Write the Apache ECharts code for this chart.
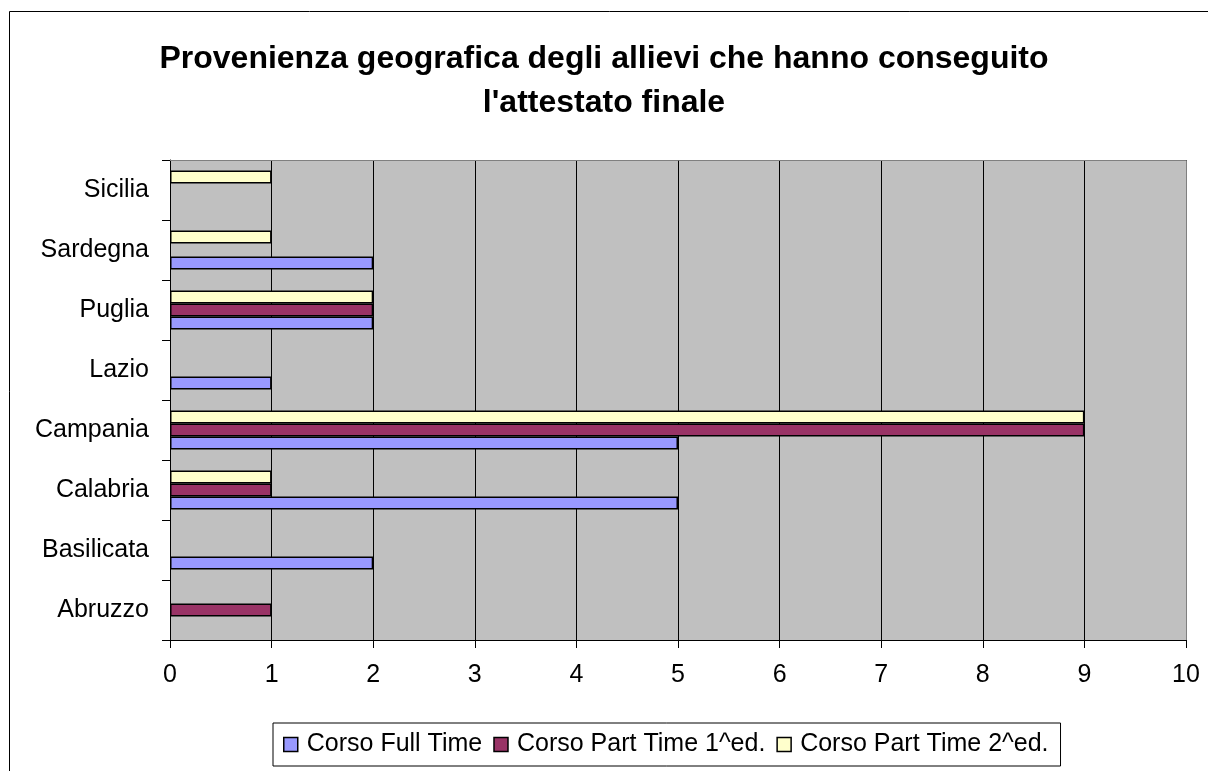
<!DOCTYPE html>
<html lang="it">
<head>
<meta charset="UTF-8" />
<title>Provenienza geografica</title>
<script src="https://cdn.jsdelivr.net/npm/echarts@6/dist/echarts.min.js"></script>
<style>
  html, body { margin: 0; padding: 0; background: #fff; }
  #chart { width: 1208px; height: 771px; }
</style>
</head>
<body>
<div id="chart"></div>
<script>
const regioni = ['Abruzzo', 'Basilicata', 'Calabria', 'Campania', 'Lazio', 'Puglia', 'Sardegna', 'Sicilia'];
const fullTime = [0, 2, 5, 5, 1, 2, 2, 0];
const partTime1 = [1, 0, 1, 9, 0, 2, 0, 0];
const partTime2 = [0, 0, 1, 9, 0, 2, 1, 1];
const xTicks = [0, 1, 2, 3, 4, 5, 6, 7, 8, 9, 10];

const chart = echarts.init(document.getElementById('chart'));

const font = 'Liberation Sans, Arial, sans-serif';
const barStyle = (color) => ({ color: color, borderColor: '#000', borderWidth: 1.5 });

// zeros are left out so no empty outline is drawn
const clean = (arr) => arr.map(v => (v === 0 ? '-' : v));

chart.setOption({
  backgroundColor: '#fff',
  title: {
    text: 'Provenienza geografica degli allievi che hanno conseguito\nl\'attestato finale',
    left: 'center',
    top: 32,
    textStyle: { fontFamily: font, fontSize: 32, fontWeight: 'bold', color: '#000', lineHeight: 44 }
  },
  graphic: [{
    type: 'rect',
    shape: { x: 9.5, y: 11.5, width: 1210, height: 770 },
    style: { fill: 'none', stroke: '#000', lineWidth: 1 },
    silent: true
  }, {
    // grey frame of the plot area (top/right)
    type: 'polyline',
    shape: { points: [[170, 160.5], [1186.5, 160.5], [1186.5, 640]] },
    style: { fill: 'none', stroke: '#808080', lineWidth: 1 },
    z: 10,
    silent: true
  }],
  legend: {
    left: 273,
    top: 723,
    icon: 'rect',
    itemWidth: 14,
    itemHeight: 14,
    itemGap: 11,
    padding: [9, 12, 9, 10],
    borderColor: '#000',
    borderWidth: 1,
    itemStyle: { borderColor: '#000', borderWidth: 1.5 },
    textStyle: { fontFamily: font, fontSize: 25, color: '#000', padding: [0, 0, 0, 4] },
    data: ['Corso Full Time', 'Corso Part Time 1^ed.', 'Corso Part Time 2^ed.']
  },
  grid: { left: 170, right: 22, top: 160, bottom: 131 },
  xAxis: {
    type: 'value',
    min: 0,
    max: 10,
    interval: 1,
    axisLine: { show: true, lineStyle: { color: '#000' } },
    axisTick: { show: true, length: 8, lineStyle: { color: '#000' } },
    axisLabel: { fontFamily: font, fontSize: 25, color: '#000', margin: 23,
      formatter: (v) => (xTicks.includes(v) ? String(v) : '') },
    splitLine: { show: true, lineStyle: { color: '#000', width: 1 } }
  },
  yAxis: {
    type: 'category',
    data: regioni,
    axisLine: { show: true, lineStyle: { color: '#000' } },
    axisTick: { show: true, length: 8, lineStyle: { color: '#000' } },
    axisLabel: { fontFamily: font, fontSize: 25, color: '#000', margin: 21 },
    splitArea: { show: true, areaStyle: { color: ['#C0C0C0', '#C0C0C0'] } }
  },
  // series listed top-to-bottom inside each band; legend order set above
  series: [
    { name: 'Corso Part Time 2^ed.', type: 'bar', data: clean(partTime2), barWidth: 13, barGap: '0%',
      itemStyle: barStyle('#FFFFCC') },
    { name: 'Corso Part Time 1^ed.', type: 'bar', data: clean(partTime1), barWidth: 13, barGap: '0%',
      itemStyle: barStyle('#993366') },
    { name: 'Corso Full Time', type: 'bar', data: clean(fullTime), barWidth: 13, barGap: '0%',
      itemStyle: barStyle('#9999FF') }
  ]
});
</script>
</body>
</html>
